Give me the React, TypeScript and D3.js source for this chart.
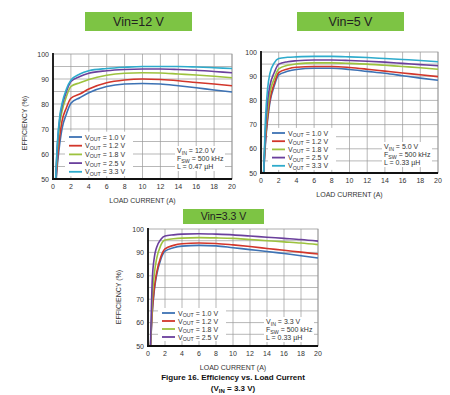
import React from 'react';
import * as d3 from 'd3';

// load current points (A), shared by every curve
const LOAD = [0.3, 0.5, 0.75, 1, 1.5, 2, 3, 4, 6, 8, 10, 12, 14, 16, 18, 20];

const VOUT_LABELS = ['1.0 V', '1.2 V', '1.8 V', '2.5 V', '3.3 V'];
const COLORS = ['#3d72b4', '#d2362b', '#9dc23e', '#6a3f9c', '#2eabcc'];

// Vin = 12 V
const EFF_12V = [
  [47, 56, 64, 70, 76, 80.3, 82.5, 84.5, 87, 88, 88.2, 88, 87.3, 86.5, 85.6, 84.8],
  [48, 58, 67, 73, 78.5, 82.3, 84, 86, 88.5, 89.6, 90, 89.8, 89.3, 88.6, 88, 87.3],
  [50, 62, 72, 77, 83, 87, 88.5, 89.8, 91.5, 92.3, 92.5, 92.4, 92, 91.6, 91.1, 90.5],
  [50, 64, 74, 79, 85, 89, 91, 92.3, 93.3, 93.8, 94, 94, 93.8, 93.5, 93, 92.5],
  [50, 65, 75, 80, 86, 89.5, 92, 93.3, 94.2, 94.7, 95, 95, 95, 94.8, 94.5, 94.2],
];

// Vin = 5 V
const EFF_5V = [
  [50, 62, 72, 79, 86, 90.5, 92, 92.8, 93.3, 93.3, 92.8, 92, 91.2, 90.2, 89.2, 88.3],
  [50, 63, 73, 80, 87, 91.5, 93, 93.7, 94, 94, 93.6, 92.9, 92.1, 91.3, 90.6, 89.8],
  [50, 66, 76, 83, 89, 93, 94.5, 95.1, 95.5, 95.5, 95.3, 95, 94.5, 94, 93.5, 92.9],
  [50, 68, 80, 86, 91.5, 95, 96, 96.4, 96.7, 96.7, 96.5, 96.2, 95.8, 95.3, 94.8, 94.3],
  [50, 72, 85, 91, 95.5, 97.3, 97.8, 98, 98.2, 98.2, 98, 97.7, 97.3, 96.9, 96.5, 96],
];

// Vin = 3.3 V
const EFF_3V3 = [
  [50, 64, 74, 80, 87, 90.5, 92, 92.7, 93, 92.8, 92, 91.2, 90.4, 89.5, 88.6, 87.6],
  [50, 65, 75, 81, 88, 91.5, 93, 93.7, 94, 93.8, 93.2, 92.5, 91.7, 90.9, 90.1, 89.3],
  [50, 70, 81, 87, 93, 95.3, 95.8, 96.1, 96.3, 96.2, 96, 95.5, 95, 94.5, 94, 93.3],
  [50, 78, 88, 92, 95.5, 97, 97.5, 97.8, 98, 97.8, 97.5, 97, 96.5, 96, 95.5, 94.8],
];

const X_TICKS = [0, 2, 4, 6, 8, 10, 12, 14, 16, 18, 20];
const Y_TICKS = [50, 60, 70, 80, 90, 100];
const Y_GRID = [55, 60, 65, 70, 75, 80, 85, 90, 95];

const FONT = 'Liberation Sans, Arial, sans-serif';
const TXT = '#333';

interface PanelProps {
  id: string;
  left: number; right: number; top: number; bottom: number;
  series: number[][];
  vin: string; l: string;
  title: string;
  box: [number, number, number, number];
  titleSize: number;
  legendX: number; legendY: number; legendStep: number;
  noteX: number; noteY: number;
  yTitle?: [number, number];
}

const Sub = ({ main, sub, rest }: { main: string; sub: string; rest: string }) => (
  <>
    {main}
    <tspan fontSize="0.75em" dy="1.5">{sub}</tspan>
    <tspan dy="-1.5">{rest}</tspan>
  </>
);

const Panel: React.FC<PanelProps> = (p) => {
  const x = d3.scaleLinear().domain([0, 20]).range([p.left, p.right]);
  const y = d3.scaleLinear().domain([50, 100]).range([p.bottom, p.top]);
  const line = d3.line<number>()
    .x((_, i) => x(LOAD[i]))
    .y((d) => y(d))
    .curve(d3.curveMonotoneX);
  const fs = 7;
  const noteLines = [
    ['V', 'IN', ` = ${p.vin}`],
    ['F', 'SW', ' = 500 kHz'],
    ['L = ' + p.l, '', ''],
  ];
  return (
    <g fontFamily={FONT}>
      <rect x={p.box[0]} y={p.box[1]} width={p.box[2]} height={p.box[3]} fill="#7dc444" />
      <text x={p.box[0] + p.box[2] / 2} y={p.box[1] + p.box[3] / 2 + p.titleSize * 0.36}
        textAnchor="middle" fontSize={p.titleSize} fill="#222">{p.title}</text>

      <defs>
        <clipPath id={p.id}>
          <rect x={p.left} y={p.top} width={p.right - p.left} height={p.bottom - p.top} />
        </clipPath>
      </defs>
      <rect x={p.left} y={p.top} width={p.right - p.left} height={p.bottom - p.top}
        fill="#fff" stroke="#999" strokeWidth={0.8} />
      {X_TICKS.map((t) => (
        <line key={'gx' + t} x1={x(t)} x2={x(t)} y1={p.top} y2={p.bottom} stroke="#9a9a9a" strokeWidth={0.7} />
      ))}
      {Y_GRID.map((t) => (
        <line key={'gy' + t} x1={p.left} x2={p.right} y1={y(t)} y2={y(t)} stroke="#9a9a9a" strokeWidth={0.7} />
      ))}

      {/* legend background */}
      <rect x={p.legendX - 4} y={p.legendY - p.legendStep / 2 - 1}
        width={68} height={p.legendStep * p.series.length + 1} fill="#fff" />
      <rect x={p.noteX - 2} y={p.noteY - 7} width={50} height={25} fill="#fff" />

      <g clipPath={`url(#${p.id})`}>
        {p.series.map((s, i) => (
          <path key={i} d={line(s) || ''} fill="none" stroke={COLORS[i]} strokeWidth={1.6} />
        ))}
      </g>

      <line x1={p.left} x2={p.left} y1={p.top - 1} y2={p.bottom + 1} stroke="#111" strokeWidth={1.8} />
      <line x1={p.left - 1} x2={p.right} y1={p.bottom} y2={p.bottom} stroke="#111" strokeWidth={1.8} />

      {Y_TICKS.map((t) => (
        <text key={'ty' + t} x={p.left - 4} y={y(t) + 2.5} textAnchor="end" fontSize={fs} fill={TXT}>{t}</text>
      ))}
      {X_TICKS.map((t) => (
        <text key={'tx' + t} x={x(t)} y={p.bottom + 10} textAnchor="middle" fontSize={fs} fill={TXT}>{t}</text>
      ))}
      <text x={(p.left + p.right) / 2} y={p.bottom + 24} textAnchor="middle" fontSize={fs} fill={TXT}>LOAD CURRENT (A)</text>
      {p.yTitle && (
        <text transform={`translate(${p.yTitle[0]},${p.yTitle[1]}) rotate(-90)`} textAnchor="middle"
          fontSize={fs} fill={TXT}>EFFICIENCY (%)</text>
      )}

      {p.series.map((_, i) => (
        <g key={'lg' + i}>
          <line x1={p.legendX} x2={p.legendX + 13} y1={p.legendY + i * p.legendStep}
            y2={p.legendY + i * p.legendStep} stroke={COLORS[i]} strokeWidth={1.8} />
          <text x={p.legendX + 16} y={p.legendY + i * p.legendStep + 2.5} fontSize={fs} fill={TXT}>
            <Sub main="V" sub="OUT" rest={` = ${VOUT_LABELS[i]}`} />
          </text>
        </g>
      ))}
      {noteLines.map((n, i) => (
        <text key={'n' + i} x={p.noteX} y={p.noteY + i * 8} fontSize={fs} fill={TXT}>
          {n[1] ? <Sub main={n[0]} sub={n[1]} rest={n[2]} /> : n[0]}
        </text>
      ))}
    </g>
  );
};

export default function App() {
  return (
    <svg width={450} height={395} style={{ position: 'absolute', left: 0, top: 0 }}>
      <rect width={450} height={395} fill="#fff" />
      <Panel id="c12" left={53} right={232} top={54} bottom={179} series={EFF_12V}
        vin="12.0 V" l="0.47 µH" title="Vin=12 V" box={[85, 12, 107, 19]} titleSize={12.5}
        legendX={69} legendY={137} legendStep={8.7} noteX={177} noteY={153} yTitle={[27, 123]} />
      <Panel id="c5" left={261} right={438} top={52} bottom={173} series={EFF_5V}
        vin="5.0 V" l="0.33 µH" title="Vin=5 V" box={[297, 12, 107, 19]} titleSize={12.5}
        legendX={272} legendY={133} legendStep={8.2} noteX={384} noteY={149} />
      <Panel id="c33" left={148} right={318} top={229} bottom={346} series={EFF_3V3}
        vin="3.3 V" l="0.33 µH" title="Vin=3.3 V" box={[183, 209, 81, 15]} titleSize={10.5}
        legendX={162} legendY={313} legendStep={8} noteX={266} noteY={324} yTitle={[121, 297]} />
      <text x={233} y={380} textAnchor="middle" fontSize={8} fontWeight="bold" fontFamily={FONT} fill="#111">
        Figure 16. Efficiency vs. Load Current
      </text>
      <text x={233} y={391} textAnchor="middle" fontSize={8} fontWeight="bold" fontFamily={FONT} fill="#111">
        (V<tspan fontSize="6" dy="1.5">IN</tspan><tspan dy="-1.5"> = 3.3 V)</tspan>
      </text>
    </svg>
  );
}
